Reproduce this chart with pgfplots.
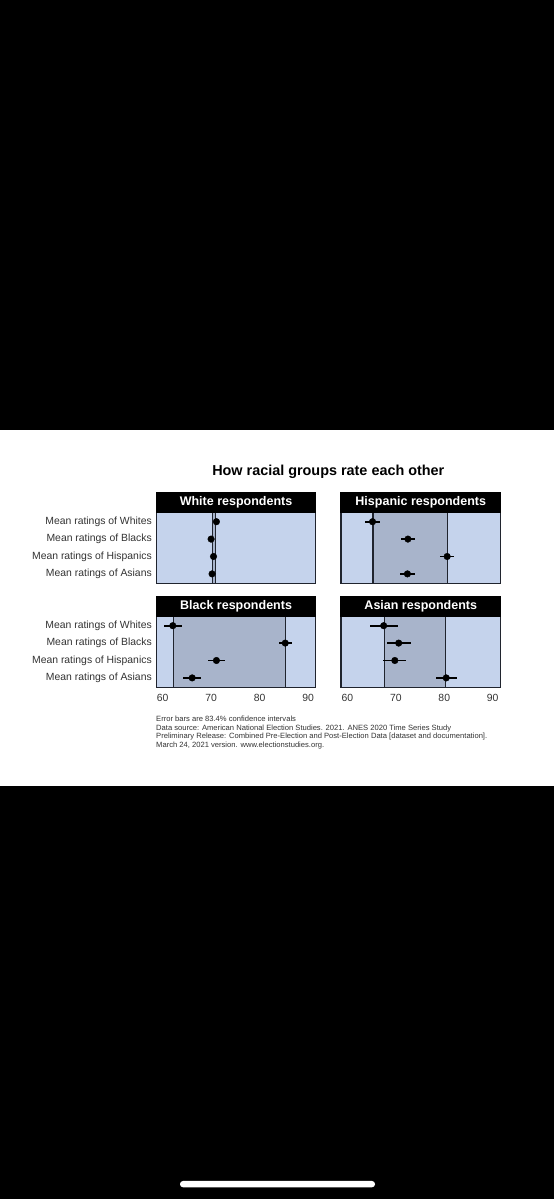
\documentclass[border=0pt]{standalone}
\usepackage{fontspec}
\setmainfont{Liberation Sans}
\usepackage{pgfplots}
\pgfplotsset{compat=1.18}
\usepackage{pgfplotstable}
\definecolor{bgblue}{HTML}{C5D3EC}
\definecolor{shade}{HTML}{A8B4CB}
\definecolor{frame}{HTML}{20242E}

% respondents' mean ratings: x = mean, y = row, e = half-width of 83.4% CI
\pgfplotstableread{
x y e
71.1 1 0.4
70.0 2 0.4
70.5 3 0.4
70.2 4 0.4
}\whiteT
\pgfplotstableread{
x y e
65.2 1 1.6
72.5 2 1.5
80.6 3 1.4
72.4 4 1.6
}\hispT
\pgfplotstableread{
x y e
62.1 1 1.9
85.3 2 1.3
71.1 3 1.7
66.1 4 1.9
}\blackT
\pgfplotstableread{
x y e
67.5 1 2.9
70.6 2 2.5
69.8 3 2.4
80.4 4 2.2
}\asianT

\pgfplotsset{panel/.style={
  scale only axis, width=159.5pt, height=71pt,
  xmin=58.7, xmax=91.6, ymin=0.46, ymax=4.54, y dir=reverse,
  axis background/.style={fill=bgblue},
  axis line style={frame, line width=1.3pt},
  axis on top,
  xtick={60,70,80,90}, ytick={1,2,3,4},
  major tick length=0pt,
  tick label style={font=\fontsize{10.4}{12}\selectfont, text=black!80},
  /pgf/number format/assume math mode=true,
  xticklabel style={yshift=-3pt},
  yticklabel style={xshift=-1pt},
  every axis title shift=0pt,
  title style={at={(0.5,1)}, anchor=south, fill=black, text=white,
    font=\bfseries\fontsize{12.5}{14}\selectfont,
    minimum width=160.8pt, minimum height=20.5pt, inner sep=0pt, yshift=-0.65pt},
},
pts/.style={only marks, mark=*, mark size=3.3pt, black,
  error bars/.cd, x dir=both, x explicit, error mark=none,
  error bar style={line width=1.8pt, black}},
vline/.style={frame, line width=1.1pt},
}

\newcommand{\panelcontent}[3]{%
  \addplot[fill=shade, draw=none] coordinates {(#1,0.46) (#2,0.46) (#2,4.54) (#1,4.54)} -- cycle;
  \addplot[vline] coordinates {(#1,0.46) (#1,4.54)};
  \addplot[vline] coordinates {(#2,0.46) (#2,4.54)};
  \addplot[pts] table[x=x, y=y, x error=e] {#3};
}

\begin{document}
\begin{tikzpicture}
\fill[black] (0pt,0pt) rectangle (554pt,1199pt);
\fill[white] (0pt,{1199pt-786pt}) rectangle (554pt,{1199pt-430.5pt});
\fill[white, rounded corners=3pt] (180pt,{1199pt-1187.3pt}) rectangle (375pt,{1199pt-1181pt});

\node[font=\bfseries\fontsize{14.4}{16}\selectfont] at (328.3pt,{1199pt-471.5pt}) {How racial groups rate each other};

% White respondents
\begin{axis}[panel, at={(156.3pt,{1199pt-583.3pt})}, anchor=south west,
  title={White respondents}, xticklabels={},
  yticklabels={Mean ratings of Whites, Mean ratings of Blacks, Mean ratings of Hispanics, Mean ratings of Asians}]
\panelcontent{70.2}{71.0}{\whiteT}
\end{axis}

% Hispanic respondents
\begin{axis}[panel, at={(341pt,{1199pt-583.3pt})}, anchor=south west,
  title={Hispanic respondents}, xticklabels={}, yticklabels={}]
\panelcontent{65.3}{80.6}{\hispT}
\end{axis}

% Black respondents
\begin{axis}[panel, at={(156.3pt,{1199pt-687.3pt})}, anchor=south west,
  title={Black respondents},
  yticklabels={Mean ratings of Whites, Mean ratings of Blacks, Mean ratings of Hispanics, Mean ratings of Asians}]
\panelcontent{62.2}{85.3}{\blackT}
\end{axis}

% Asian respondents
\begin{axis}[panel, at={(341pt,{1199pt-687.3pt})}, anchor=south west,
  title={Asian respondents}, yticklabels={}]
\panelcontent{67.6}{80.3}{\asianT}
\end{axis}

\node[anchor=north west, inner sep=0pt, align=left, text=black!80,
  font=\fontsize{7.6}{8.8}\selectfont] at (156pt,{1199pt-715.5pt})
  {Error bars are 83.4\% confidence intervals\\
   Data source: American National Election Studies. 2021. ANES 2020 Time Series Study\\
   Preliminary Release: Combined Pre-Election and Post-Election Data [dataset and documentation].\\
   March 24, 2021 version. www.electionstudies.org.};
\end{tikzpicture}
\end{document}
